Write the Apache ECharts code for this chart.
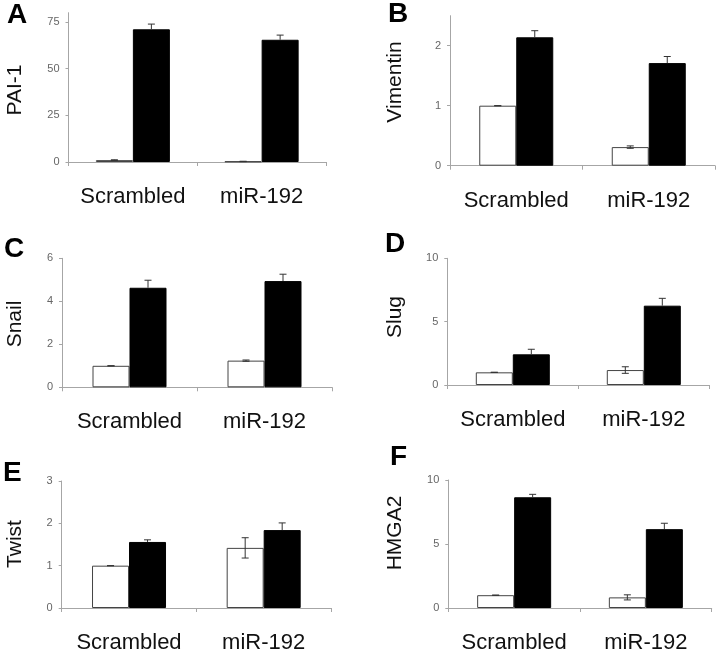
<!DOCTYPE html>
<html><head><meta charset="utf-8">
<script src="https://cdn.jsdelivr.net/npm/echarts@6/dist/echarts.min.js"></script>
<style>html,body{margin:0;padding:0;background:#fff}#c{width:720px;height:654px}</style>
</head><body><div id="c"></div>
<script>
// ---- data ----
const categories = ['Scrambled', 'miR-192'];
const panelLetters = ['A', 'B', 'C', 'D', 'E', 'F'];
const yNames = ['PAI-1', 'Vimentin', 'Snail', 'Slug', 'Twist', 'HMGA2'];

const whiteA = [1.0, 0.3],  whiteErrA = [0.2, 0.1],  blackA = [71.1, 65.5], blackErrA = [2.8, 2.5];
const whiteB = [1.0, 0.31], whiteErrB = [0, 0.02],   blackB = [2.14, 1.71], blackErrB = [0.11, 0.11];
const whiteC = [1.0, 1.24], whiteErrC = [0, 0.03],   blackC = [4.63, 4.94], blackErrC = [0.35, 0.32];
const whiteD = [1.0, 1.18], whiteErrD = [0, 0.26],   blackD = [2.42, 6.26], blackErrD = [0.40, 0.58];
const whiteE = [1.0, 1.42], whiteErrE = [0, 0.24],   blackE = [1.56, 1.84], blackErrE = [0.05, 0.17];
const whiteF = [1.0, 0.83], whiteErrF = [0, 0.20],   blackF = [8.65, 6.16], blackErrF = [0.23, 0.46];

const yMax = [80, 2.5, 6, 10, 3, 10];
const yTicks = [[0, 25, 50, 75], [0, 1, 2], [0, 2, 4, 6], [0, 5, 10], [0, 1, 2, 3], [0, 5, 10]];

// ---- layout / style ----
const whites = [whiteA, whiteB, whiteC, whiteD, whiteE, whiteF];
const whiteErrs = [whiteErrA, whiteErrB, whiteErrC, whiteErrD, whiteErrE, whiteErrF];
const blacks = [blackA, blackB, blackC, blackD, blackE, blackF];
const blackErrs = [blackErrA, blackErrB, blackErrC, blackErrD, blackErrE, blackErrF];

const gridBoxes = [
  {left: 68.5, top: 12.7, width: 257.5, height: 149.3},
  {left: 450, top: 15.7, width: 265, height: 150},
  {left: 62, top: 258.3, width: 270, height: 129},
  {left: 447.3, top: 258.3, width: 262, height: 126.7},
  {left: 61.7, top: 481, width: 269.3, height: 128},
  {left: 448.3, top: 480, width: 263.4, height: 128.3}
];
const letterPos = [[7, 15], [388, 14], [4, 249], [385, 244], [3, 473], [390, 457]];
const namePos = [[15, 90], [395, 82], [15, 324], [395, 317], [15, 544], [395, 533]];

const FONT = '"Liberation Sans", Arial, Helvetica, sans-serif';
const BAR_W = 37;
const AXIS_COLOR = '#a6a6a6';

const grid = [], xAxis = [], yAxis = [], series = [], graphic = [];

function errSeries(i, vals, errs, side, upOnly) {
  return {
    type: 'custom', xAxisIndex: i, yAxisIndex: i, z: 5, silent: true,
    data: vals.map((v, k) => [k, v, errs[k]]),
    encode: {x: 0, y: 1},
    renderItem: function (params, api) {
      const k = api.value(0), v = api.value(1), e = api.value(2);
      const top = api.coord([k, v + e]);
      const bot = api.coord([k, upOnly ? v : v - e]);
      const x = top[0] + side * BAR_W / 2;
      const cap = 3.5;
      const st = {stroke: '#333', lineWidth: 1};
      const kids = [
        {type: 'line', shape: {x1: x, y1: top[1], x2: x, y2: bot[1]}, style: st},
        {type: 'line', shape: {x1: x - cap, y1: top[1], x2: x + cap, y2: top[1]}, style: st}
      ];
      if (!upOnly) kids.push({type: 'line', shape: {x1: x - cap, y1: bot[1], x2: x + cap, y2: bot[1]}, style: st});
      return {type: 'group', children: kids};
    }
  };
}

for (let i = 0; i < 6; i++) {
  grid.push(Object.assign({containLabel: false}, gridBoxes[i]));
  xAxis.push({
    type: 'category', gridIndex: i, data: categories,
    axisLine: {lineStyle: {color: AXIS_COLOR, width: 1}},
    axisTick: {show: true, length: 4, lineStyle: {color: AXIS_COLOR}},
    axisLabel: {interval: 0, hideOverlap: false, fontFamily: FONT, fontSize: 22, color: '#111', margin: 24},
    splitLine: {show: false}
  });
  yAxis.push({
    type: 'value', gridIndex: i, min: 0, max: yMax[i],
    axisLine: {show: true, lineStyle: {color: AXIS_COLOR, width: 1}},
    axisTick: {show: true, length: 3, lineStyle: {color: AXIS_COLOR}, customValues: yTicks[i]},
    axisLabel: {fontFamily: FONT, fontSize: 11, color: '#666', margin: 9, customValues: yTicks[i]},
    splitLine: {show: false}
  });
  series.push({
    type: 'bar', xAxisIndex: i, yAxisIndex: i, data: whites[i], barWidth: BAR_W, barGap: '0%',
    itemStyle: {color: '#fff', borderColor: '#444', borderWidth: 1}, silent: true
  });
  series.push({
    type: 'bar', xAxisIndex: i, yAxisIndex: i, data: blacks[i], barWidth: BAR_W, barGap: '0%',
    itemStyle: {color: '#000', borderColor: '#000', borderWidth: 1}, silent: true
  });
  series.push(errSeries(i, whites[i], whiteErrs[i], -1, false));
  series.push(errSeries(i, blacks[i], blackErrs[i], 1, true));

  graphic.push({
    type: 'text', x: letterPos[i][0], y: letterPos[i][1],
    style: {text: panelLetters[i], font: 'bold 28px ' + FONT, fill: '#000', align: 'left', verticalAlign: 'middle'}
  });
  graphic.push({
    type: 'text', x: namePos[i][0], y: namePos[i][1], rotation: Math.PI / 2,
    style: {text: yNames[i], font: '21px ' + FONT, fill: '#111', align: 'center', verticalAlign: 'middle'}
  });
}

const chart = echarts.init(document.getElementById('c'), null, {renderer: 'canvas'});
chart.setOption({animation: false, backgroundColor: '#fff', grid, xAxis, yAxis, series, graphic});
</script>
</body></html>
